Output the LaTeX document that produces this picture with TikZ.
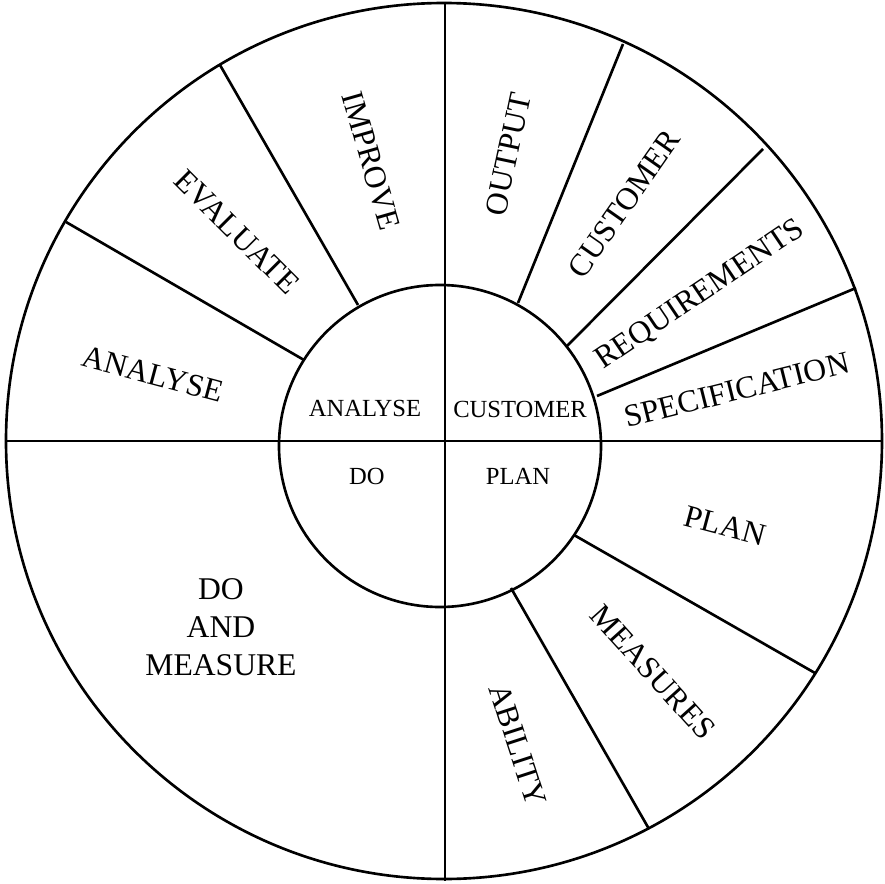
\documentclass[tikz,border=0pt]{standalone}
\usepackage{fontspec}
\setmainfont{Liberation Serif}

\begin{document}
\begin{tikzpicture}[x=0.02cm, y=0.02cm, line width=1.5pt,
  big/.style={font=\fontsize{18}{21.5}\selectfont, inner sep=0pt, align=center},
  small/.style={font=\fontsize{14}{16}\selectfont, inner sep=0pt}]
  \useasboundingbox (-444,-442) rectangle (441,441);

  % wheel
  \draw (0,0) circle (438);
  \draw (-4,-5) circle (161);
  \draw (-437,0) -- (437,0);
  \draw (1,439) -- (1,-440);

  \begin{scope}
    \coordinate (a1) at (-140,81) ;
    \coordinate (a2) at (-378,219) ;
    \coordinate (b1) at (-86,136) ;
    \coordinate (b2) at (-224,376) ;
    \coordinate (c1) at (74,138) ;
    \coordinate (c2) at (179,397) ;
    \coordinate (d1) at (122,94) ;
    \coordinate (d2) at (319,292) ;
    \coordinate (e1) at (153,45) ;
    \coordinate (e2) at (412,153) ;
    \coordinate (f1) at (130,-94) ;
    \coordinate (f2) at (371,-232) ;
    \coordinate (g1) at (67,-147) ;
    \coordinate (g2) at (205,-388) ;
  \end{scope}

  \begin{scope}[-]
    \draw (a1) to (a2);
    \draw (b1) to (b2);
    \draw (c1) to (c2);
    \draw (d1) to (d2);
    \draw (e1) to (e2);
    \draw (f1) to (f2);
    \draw (g1) to (g2);
  \end{scope}

  % hub
  \begin{scope}[every node/.style={small}]
    \node (hanalyse) at (-79,33) {ANALYSE} ;
    \node (hcustomer) at (76,32) {CUSTOMER} ;
    \node (hdo) at (-77,-35) {DO} ;
    \node (hplan) at (74,-35) {PLAN} ;
  \end{scope}

  % rim
  \begin{scope}[every node/.style={big}]
    \node[rotate=-15] (analyse) at (-291,67) {ANALYSE} ;
    \node[rotate=-45] (evaluate) at (-207,209) {EVALUATE} ;
    \node[rotate=-74] (improve) at (-73,280) {IMPROVE} ;
    \node[rotate=78] (output) at (64,287) {OUTPUT} ;
    \node[rotate=55] (customer) at (180,237) {CUSTOMER} ;
    \node[rotate=34] (requirements) at (256,146) {REQUIREMENTS} ;
    \node[rotate=14] (specification) at (293,51) {SPECIFICATION} ;
    \node[rotate=-15] (plan) at (281,-85) {PLAN} ;
    \node[rotate=-48] (measures) at (209,-231) {MEASURES} ;
    \node[rotate=-72] (ability) at (74,-304) {ABILITY} ;
    \node (domeasure) at (-223,-186) {DO\\AND\\MEASURE} ;
  \end{scope}
\end{tikzpicture}
\end{document}
